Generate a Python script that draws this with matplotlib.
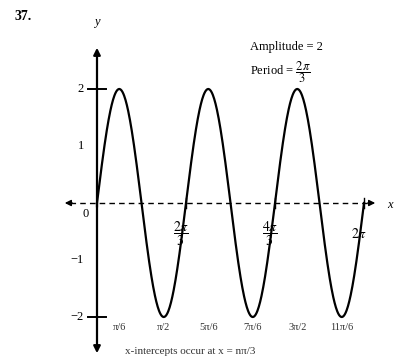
import numpy as np
import matplotlib
matplotlib.use("Agg")
import matplotlib.pyplot as plt

plt.rcParams['font.family'] = ['Liberation Serif', 'DejaVu Serif']
plt.rcParams['mathtext.fontset'] = 'stix'

# data
amplitude = 2
period = 2 * np.pi / 3
t = np.linspace(0, 2 * np.pi, 600)
y = amplitude * np.sin(2 * np.pi / period * t)
y_ticks = [2, 1, -1, -2]
y_labels = ['2', '1', '\u22121', '\u22122']
x_ticks = [2 * np.pi / 3, 4 * np.pi / 3, 2 * np.pi]
x_labels = [r'$\dfrac{2\pi}{3}$', r'$\dfrac{4\pi}{3}$', r'$2\pi$']
bottom_ticks = [np.pi / 6, np.pi / 2, 5 * np.pi / 6, 7 * np.pi / 6, 3 * np.pi / 2, 11 * np.pi / 6]
bottom_labels = ['\u03c0/6', '\u03c0/2', '5\u03c0/6', '7\u03c0/6', '3\u03c0/2', '11\u03c0/6']

W, H = 398, 363
fig = plt.figure(figsize=(W / 100, H / 100), dpi=100)
ax = fig.add_axes([0, 0, 1, 1])
ux = 2 * np.pi / 267   # radians per pixel
uy = 1 / 57.0          # units per pixel
x0, y0 = 97, 203       # origin in pixels
ax.set_xlim(-x0 * ux, (W - x0) * ux)
ax.set_ylim(-(H - y0) * uy, y0 * uy)
ax.axis('off')

def px(x, yy):
    return (x - x0) * ux, (y0 - yy) * uy

# y axis with arrows
ax.annotate('', xy=px(97, 45), xytext=px(97, 210),
            arrowprops=dict(arrowstyle='-|>', color='black', lw=1.6, mutation_scale=10))
ax.annotate('', xy=px(97, 356), xytext=px(97, 200),
            arrowprops=dict(arrowstyle='-|>', color='black', lw=1.6, mutation_scale=10))
# x axis (dashed) with arrows
ax.plot([px(70, 0)[0], px(370, 0)[0]], [0, 0], color='black', lw=1, ls=(0, (4, 3)))
ax.annotate('', xy=px(378, 203), xytext=px(365, 203),
            arrowprops=dict(arrowstyle='-|>', color='black', lw=1, mutation_scale=9))
ax.annotate('', xy=px(62, 203), xytext=px(75, 203),
            arrowprops=dict(arrowstyle='-|>', color='black', lw=1, mutation_scale=9))

# y ticks
for v, lab in zip(y_ticks, y_labels):
    if abs(v) == 2:
        ax.plot([px(88, 0)[0], px(106, 0)[0]], [v, v], color='black', lw=1.4)
    ax.text(px(84, 0)[0], v, lab, ha='right', va='center', fontsize=9)
ax.text(*px(86, 214), '0', ha='center', va='center', fontsize=9)

# curve
ax.plot(t, y, color='black', lw=1.6)

# x tick labels
for v, lab in zip(x_ticks, x_labels):
    ax.plot([v, v], [-0.08, 0.08], color='black', lw=1)
    ax.text(v - 0.12, px(0, 234)[1], lab, ha='center', va='center', fontsize=10)
for v, lab in zip(bottom_ticks, bottom_labels):
    ax.text(v, px(0, 327)[1], lab, ha='center', va='center', fontsize=7.5, color='#333333')

# labels and annotations
ax.text(*px(97, 22), 'y', ha='center', va='center', fontsize=9, style='italic')
ax.text(*px(390, 205), 'x', ha='center', va='center', fontsize=9, style='italic')
ax.text(*px(14, 17), '37.', ha='left', va='center', fontsize=10, fontweight='bold')
ax.text(*px(250, 47), 'Amplitude = 2', ha='left', va='center', fontsize=9)
ax.text(*px(250, 72), r'Period = $\dfrac{2\pi}{3}$', ha='left', va='center', fontsize=9)
ax.text(*px(125, 352), 'x-intercepts occur at x = n\u03c0/3', ha='left', va='center',
        fontsize=8, color='#333333')

fig.savefig('out.png', dpi=100)
